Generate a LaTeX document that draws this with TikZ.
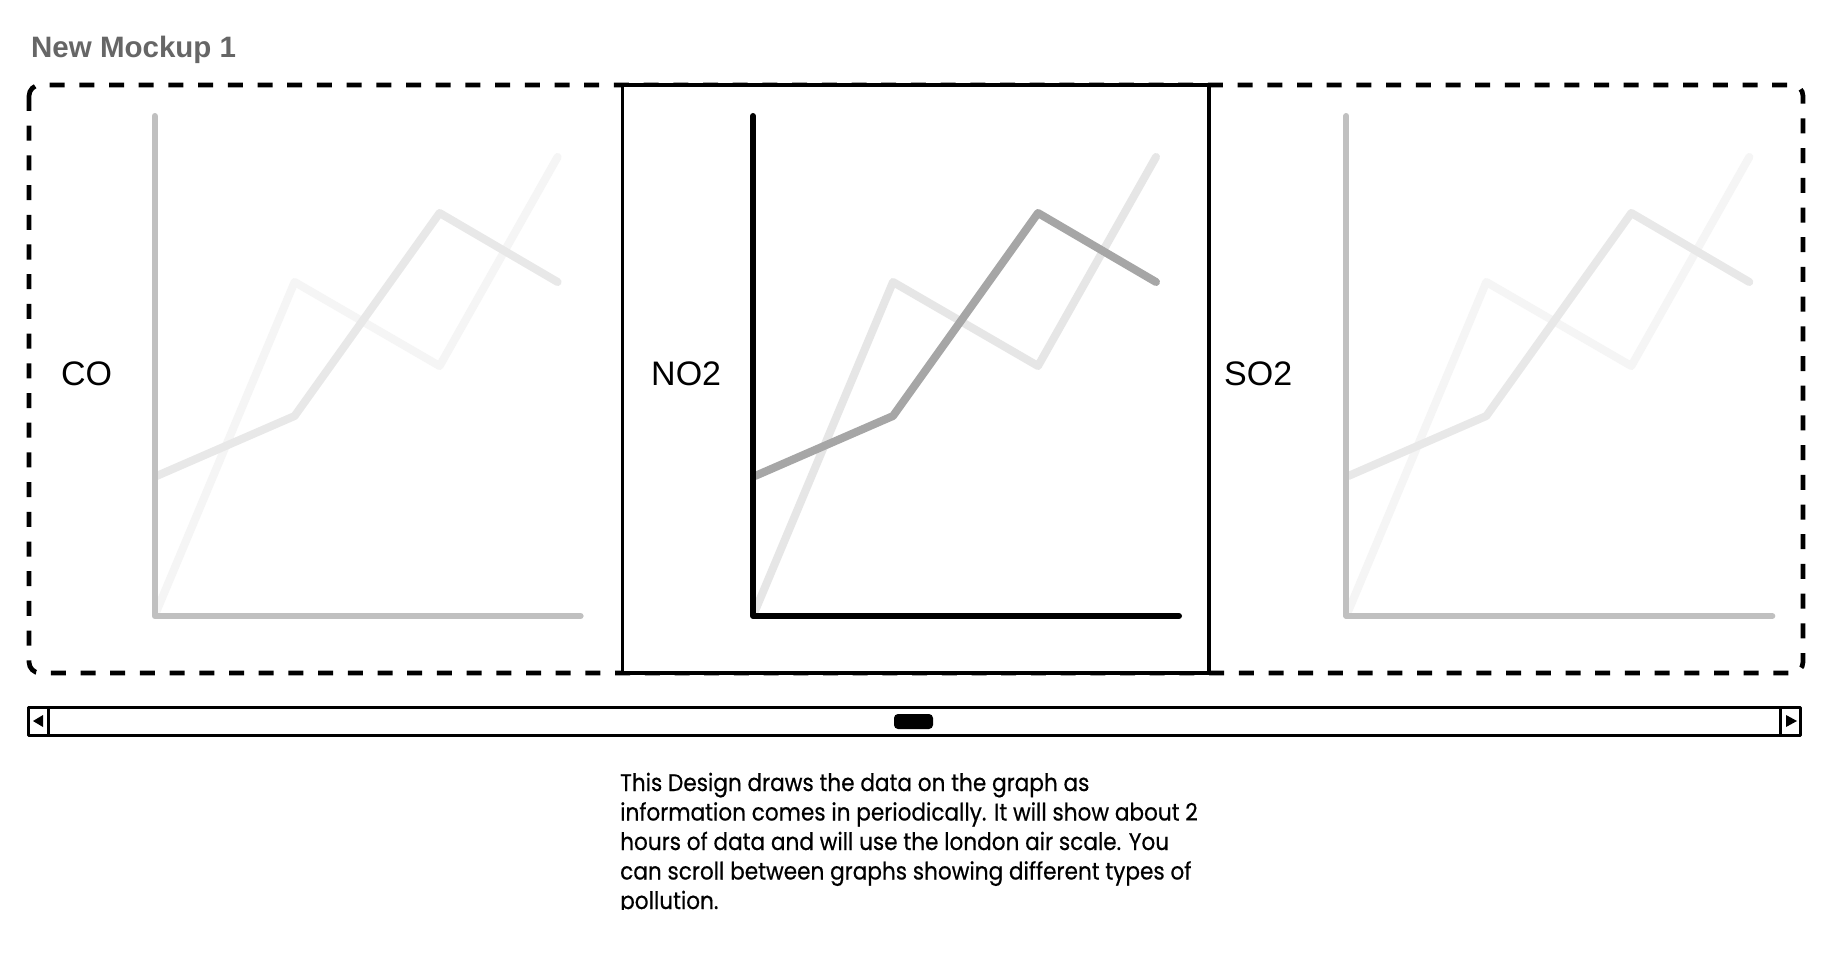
\documentclass[tikz,border=0pt]{standalone}
\usepackage{fontspec}
\setmainfont{Liberation Sans}
\newfontfamily\notefont[FakeStretch=0.9,FakeBold=0.5]{Poppins}
\definecolor{titlegray}{HTML}{666666}
\definecolor{faxis}{HTML}{C0C0C0}
\definecolor{fser}{HTML}{E8E8E8}
\definecolor{fser2}{HTML}{F5F5F5}
\definecolor{mser}{HTML}{A6A6A6}
\definecolor{mser2}{HTML}{E6E6E6}
\tikzset{
  axisline/.style={line width=6pt, line cap=round, line join=round},
  serline/.style={line width=8pt, line cap=round, line join=round},
  gaslabel/.style={anchor=base west, inner sep=0pt, font=\fontsize{34}{40}\selectfont},
  sbline/.style={line width=3pt, line join=round},
}
\newcommand{\mygraph}[4]{%
  \begin{scope}[xshift=#1]
    \draw[serline,#4] (755,611) -- (893,282) -- (1038,366) -- (1156,157);
    \draw[serline,#3] (755,476) -- (893,416) -- (1038,213) -- (1156,282);
    \draw[axisline,#2] (753,116) -- (753,616) -- (1179,616);
  \end{scope}}
\begin{document}
\begin{tikzpicture}[x=1pt,y=-1pt]
\useasboundingbox[fill=white] (0,0) rectangle (1834,960);
% title
\node[anchor=base west, inner sep=0pt, text=titlegray, font=\bfseries\fontsize{29.5}{35}\selectfont] (title) at (31,58) {New Mockup 1};
% outer dashed carousel
\draw[line width=4.7pt, dash pattern=on 15pt off 14.7pt, rounded corners=11pt] (29,85) rectangle (1803,673);
% graphs
\mygraph{-598.4pt}{faxis}{fser}{fser2}
\mygraph{593.3pt}{faxis}{fser}{fser2}
% selected middle frame
\draw[line width=3.5pt, fill=white] (622.5,85) rectangle (1209,673);
\mygraph{0pt}{black}{mser}{mser2}
% labels
\node[gaslabel] (co) at (61,385) {CO};
\node[gaslabel] (no2) at (651,385) {NO2};
\node[gaslabel] (so2) at (1224,385) {SO2};
% scrollbar
\draw[sbline] (28.5,707.5) rectangle (1800,735);
\draw[sbline] (48,707.5) -- (48,735);
\draw[sbline] (1780,707.5) -- (1780,735);
\fill (43,715) -- (33,721) -- (43,727) -- cycle;
\fill (1786,715) -- (1797,721) -- (1786,727) -- cycle;
\fill[rounded corners=4pt] (894,714) rectangle (933,729);
% description (last line cut at its baseline, as in the mockup)
\begin{scope}
\clip (600,750) rectangle (1300,909.5);
\node[anchor=base west, inner sep=0pt, align=left, font=\notefont\fontsize{24}{29.5}\selectfont] (desc) at (620,909) {This Design draws the data on the graph as\\information comes in periodically. It will show about 2\\hours of data and will use the london air scale. You\\can scroll between graphs showing different types of\\pollution.};
\end{scope}
\end{tikzpicture}
\end{document}
